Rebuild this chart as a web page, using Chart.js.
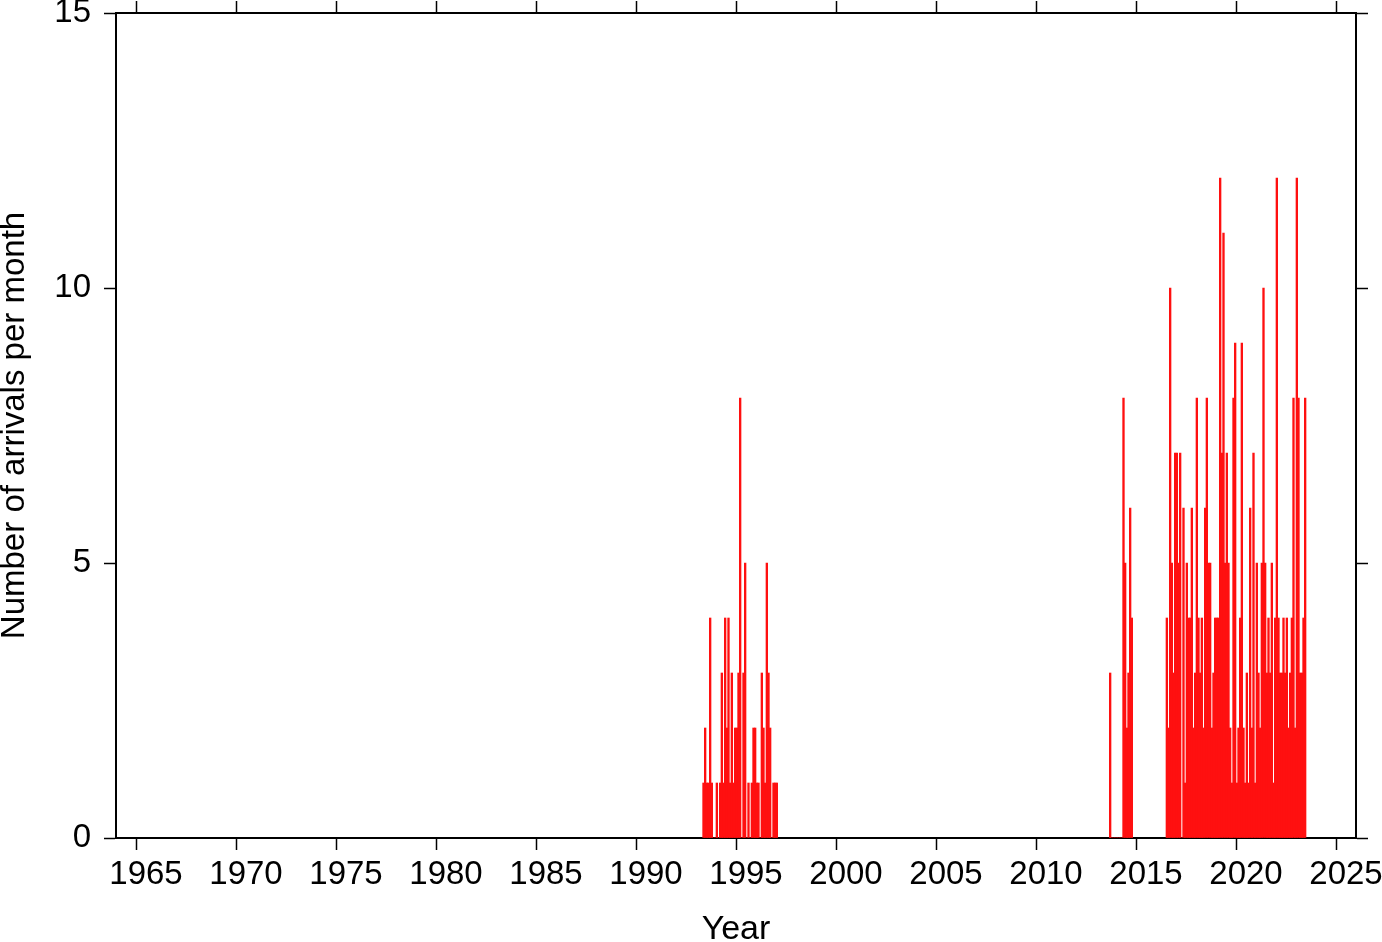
<!DOCTYPE html>
<html>
<head>
<meta charset="utf-8">
<script src="https://cdn.jsdelivr.net/npm/chart.js@4"></script>
<style>
  html, body { margin: 0; padding: 0; background: #fff; }
  #wrap { width: 1382px; height: 942px; position: relative; }
</style>
</head>
<body>
<div id="wrap"><canvas id="arrivals"></canvas></div>
<script>
// monthly arrival counts, each burst starts at the given year / month
const burst1993Start = [1993, 5];
const burst1993 = [1,2,1,1,4,1,0,0, 1,0,1,3,1,4,2,4,1,3,1,2, 2,3,8,0,3,5,0,1,0,1,2,2, 1,1,0,3,2,1,5,3,2,0,1,1, 1];

const burst2013Start = [2013, 9];
const burst2013 = [3,0,0,0, 0,0,0,0,8,5,2,3,6,4];

const burst2016Start = [2016, 7];
const burst2016 = [
  4,2,10,5,3,7,
  7,5,7,0,6,1,5,4,4,6,2,3,
  8,4,3,4,2,6,8,5,5,2,3,4,
  4,4,12,7,11,5,7,5,2,1,8,9,
  1,2,4,9,2,1,3,1,6,2,7,1,
  5,3,2,5,10,5,3,4,3,5,1,4,
  12,4,3,3,4,3,4,2,3,4,8,2,
  12,8,3,3,4,8
];

const yearTicks = [1965, 1970, 1975, 1980, 1985, 1990, 1995, 2000, 2005, 2010, 2015, 2020, 2025];
const countTicks = [0, 5, 10, 15];
const xTitle = 'Year';
const yTitle = 'Number of arrivals per month';

function monthly(start, counts) {
  return counts.map((c, i) => ({ x: start[0] + (start[1] - 1 + i + 0.5) / 12, y: c }));
}

const points = [].concat(
  monthly(burst1993Start, burst1993),
  monthly(burst2013Start, burst2013),
  monthly(burst2016Start, burst2016)
);

const family = '"Liberation Sans", Arial, Helvetica, sans-serif';
const tickFont = { family: family, size: 33 };
const setTicks = list => scale => { scale.ticks = list.map(v => ({ value: v })); };

function frameAxis(position, min, max, ticks, size, showLabels) {
  const horizontal = position === 'top' || position === 'bottom';
  return {
    type: 'linear',
    position: position,
    min: min,
    max: max,
    offset: false,
    afterBuildTicks: setTicks(ticks),
    afterFit: s => {
      if (horizontal) s.height = size; else s.width = size;
      s.paddingTop = 0; s.paddingBottom = 0; s.paddingLeft = 0; s.paddingRight = 0;
    },
    border: { display: true, color: '#000', width: 2 },
    grid: { offset: false, drawOnChartArea: false, drawTicks: true, tickLength: 12, tickWidth: 1.5, tickColor: '#000' },
    ticks: {
      display: showLabels,
      color: '#000',
      font: tickFont,
      padding: horizontal ? 5 : 13,
      labelOffset: horizontal ? 10 : 0,
      maxRotation: 0,
      autoSkip: false,
      callback: v => String(v)
    }
  };
}

const xAxis = frameAxis('bottom', 1964, 2026, yearTicks, 104, true);
xAxis.title = { display: true, text: xTitle, color: '#000', font: { family: family, size: 34, lineHeight: 0.75 }, padding: { top: 0, bottom: 0 } };
const yAxis = frameAxis('left', 0, 15, countTicks, 116, true);
yAxis.title = { display: true, text: yTitle, color: '#000', font: { family: family, size: 33, lineHeight: 0.9 }, padding: { top: 0, bottom: 0 } };

new Chart(document.getElementById('arrivals'), {
  type: 'bar',
  data: {
    datasets: [{
      data: points,
      backgroundColor: '#ff1010',
      borderWidth: 0,
      barPercentage: 1,
      categoryPercentage: 1
    }]
  },
  options: {
    responsive: true,
    maintainAspectRatio: false,
    animation: false,
    layout: { padding: 0 },
    plugins: { legend: { display: false }, tooltip: { enabled: false } },
    scales: {
      x: xAxis,
      x2: frameAxis('top', 1964, 2026, yearTicks, 13, false),
      y: yAxis,
      y2: frameAxis('right', 0, 15, countTicks, 26, false)
    }
  }
});
</script>
</body>
</html>
